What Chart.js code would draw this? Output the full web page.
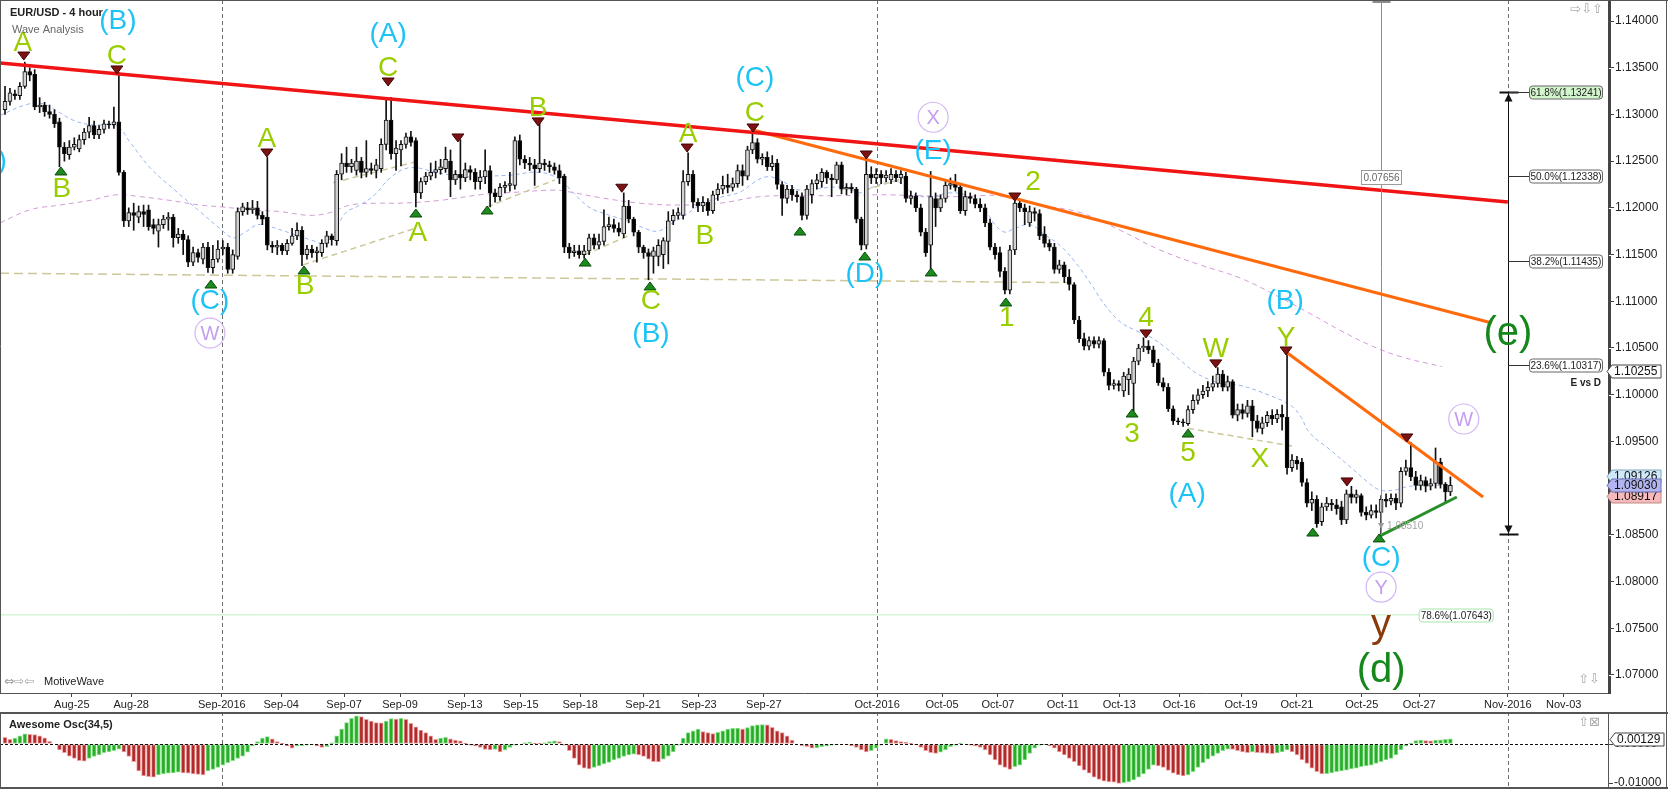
<!DOCTYPE html>
<html><head><meta charset="utf-8">
<script src="https://cdn.jsdelivr.net/npm/chart.js@4.4.1/dist/chart.umd.min.js"></script>
<style>
html,body{margin:0;padding:0;background:#fff;overflow:hidden;}
#wrap{position:relative;width:1668px;height:789px;background:#fff;}
#main{position:absolute;left:0;top:0;}
#osc{position:absolute;left:0;top:712px;}
</style></head><body>
<div id="wrap"><canvas id="main" width="1668" height="712"></canvas><canvas id="osc" width="1668" height="77"></canvas></div>
<script>
// ===== DATA (prices x 10000, one entry per 4-hour bar, Aug-23 .. Oct-28 2016) =====
const opens = [
11305,11314,11322,11320,11330,11346,11343,11308,11310,11303,
11300,11292,11265,11257,11265,11263,11273,11281,11288,11278,
11284,11290,11289,11292,11238,11186,11195,11190,11196,11198,
11182,11175,11182,11188,11190,11168,11172,11166,11142,11152,
11145,11158,11136,11145,11156,11158,11134,11148,11196,11200,
11198,11200,11192,11190,11160,11158,11160,11154,11162,11170,
11176,11150,11156,11152,11152,11162,11170,11165,11236,11248,
11244,11240,11250,11238,11242,11240,11242,11268,11294,11258,
11262,11268,11276,11272,11216,11228,11234,11238,11241,11242,
11250,11230,11236,11232,11241,11238,11228,11233,11240,11216,
11212,11222,11224,11224,11272,11252,11248,11246,11242,11248,
11246,11244,11240,11234,11158,11152,11154,11150,11154,11168,
11160,11164,11180,11182,11178,11172,11202,11188,11174,11158,
11152,11148,11148,11150,11164,11186,11192,11192,11228,11236,
11206,11202,11206,11197,11214,11220,11224,11222,11226,11240,
11234,11262,11270,11252,11254,11244,11248,11225,11210,11220,
11214,11212,11192,11214,11226,11228,11238,11232,11230,11246,
11220,11222,11220,11188,11160,11236,11232,11236,11232,11230,
11236,11232,11234,11210,11213,11200,11174,11160,11210,11200,
11210,11224,11226,11222,11197,11212,11210,11204,11200,11184,
11158,11152,11132,11112,11155,11205,11200,11184,11196,11194,
11172,11162,11158,11134,11139,11126,11118,11080,11060,11052,
11058,11054,11058,11024,11010,11012,11004,11016,11012,11036,
11050,11052,11048,11034,11013,11008,10985,10972,10971,10969,
10984,10994,11000,11004,11008,11012,11022,11008,11014,10978,
10984,10980,10988,10972,10964,10970,10978,10974,10979,10976,
10922,10930,10928,10906,10884,10888,10864,10880,10884,10882,
10880,10866,10894,10890,10892,10874,10871,10876,10874,10888,
10886,10889,10884,10918,10922,10912,10903,10908,10902,10905,
10928,10904,10896];
const highs = [
11330,11328,11326,11334,11356,11350,11348,11318,11313,11310,
11305,11296,11270,11272,11275,11278,11285,11297,11293,11288,
11294,11293,11308,11345,11240,11200,11205,11202,11203,11203,
11188,11188,11192,11195,11193,11178,11176,11170,11158,11156,
11162,11163,11160,11165,11165,11162,11155,11200,11205,11206,
11208,11207,11196,11254,11164,11165,11162,11166,11178,11184,
11180,11160,11160,11158,11166,11175,11172,11240,11258,11265,
11252,11265,11254,11272,11248,11252,11274,11318,11318,11272,
11272,11280,11282,11275,11232,11238,11248,11250,11252,11265,
11262,11240,11273,11248,11245,11242,11240,11262,11245,11220,
11226,11228,11238,11276,11278,11256,11254,11252,11291,11252,
11250,11248,11246,11236,11162,11160,11160,11160,11172,11172,
11172,11198,11190,11188,11184,11216,11208,11190,11176,11160,
11156,11158,11166,11168,11196,11198,11200,11240,11259,11240,
11210,11212,11210,11218,11226,11234,11236,11232,11246,11246,
11266,11281,11274,11258,11260,11256,11252,11228,11224,11224,
11218,11216,11224,11230,11236,11242,11240,11236,11249,11249,
11226,11226,11222,11190,11251,11244,11242,11240,11240,11242,
11240,11240,11238,11218,11216,11204,11178,11239,11216,11214,
11230,11232,11236,11226,11218,11216,11214,11210,11204,11188,
11162,11158,11136,11160,11209,11208,11204,11202,11200,11198,
11180,11166,11162,11144,11142,11134,11120,11084,11066,11062,
11062,11062,11060,11028,11016,11015,11024,11028,11040,11054,
11061,11058,11052,11038,11018,11012,10988,10975,10974,10988,
11000,11006,11010,11014,11020,11029,11026,11020,11016,10990,
10990,10994,10994,10978,10976,10982,10984,10984,10989,11045,
10936,10934,10932,10910,10896,10892,10884,10890,10888,10888,
10886,10898,10902,10898,10894,10880,10882,10882,10892,10894,
10894,10894,10922,10930,10949,10918,10914,10912,10910,10943,
10932,10906,10912];
const lows = [
11300,11310,11316,11316,11328,11336,11305,11302,11298,11296,
11286,11244,11250,11252,11262,11260,11268,11275,11274,11274,
11280,11285,11285,11235,11180,11180,11176,11184,11180,11176,
11172,11158,11178,11176,11158,11162,11150,11137,11138,11142,
11140,11131,11130,11142,11150,11130,11130,11145,11192,11193,
11194,11188,11182,11155,11152,11150,11150,11150,11160,11166,
11138,11145,11147,11142,11148,11158,11160,11160,11230,11238,
11238,11235,11232,11233,11236,11232,11238,11262,11252,11240,
11245,11264,11266,11201,11210,11225,11230,11232,11236,11238,
11212,11225,11220,11228,11230,11220,11220,11226,11201,11206,
11208,11216,11218,11220,11246,11242,11240,11224,11238,11240,
11238,11236,11226,11152,11146,11148,11146,11146,11150,11156,
11156,11160,11176,11174,11170,11168,11184,11170,11152,11146,
11123,11130,11138,11135,11140,11182,11188,11188,11224,11200,
11196,11196,11192,11194,11208,11215,11216,11218,11222,11224,
11230,11258,11248,11246,11240,11240,11220,11192,11205,11208,
11206,11187,11188,11205,11220,11222,11226,11212,11226,11215,
11214,11216,11184,11155,11156,11226,11226,11226,11228,11226,
11228,11226,11206,11204,11196,11170,11148,11130,11180,11196,
11206,11220,11218,11194,11192,11205,11200,11196,11180,11155,
11145,11126,11108,11108,11150,11196,11182,11180,11186,11166,
11158,11154,11130,11130,11120,11112,11076,11056,11048,11048,
11050,11050,11020,11005,11006,11004,10998,11000,10982,11032,
11046,11044,11030,11010,11004,10982,10968,10968,10966,10967,
10980,10990,10996,10998,11004,11008,11004,11004,10975,10972,
10974,10976,10955,10960,10958,10966,10968,10970,10962,10915,
10918,10920,10902,10880,10876,10858,10860,10876,10876,10872,
10861,10862,10884,10884,10870,10866,10868,10868,10851,10880,
10882,10877,10880,10914,10908,10898,10898,10896,10898,10900,
10900,10884,10892];
const closes = [
11314,11323,11320,11330,11346,11342,11308,11310,11303,11300,
11290,11265,11258,11265,11268,11273,11281,11288,11278,11284,
11290,11289,11292,11238,11186,11195,11192,11196,11193,11180,
11178,11182,11188,11190,11168,11172,11166,11142,11152,11147,
11158,11136,11145,11156,11158,11134,11150,11196,11201,11198,
11200,11192,11188,11160,11158,11160,11154,11162,11170,11176,
11150,11156,11152,11154,11162,11170,11166,11236,11248,11244,
11248,11250,11238,11242,11240,11246,11268,11294,11258,11264,
11268,11276,11270,11216,11228,11234,11238,11241,11244,11252,
11230,11236,11232,11241,11238,11228,11233,11240,11216,11212,
11222,11224,11226,11272,11252,11248,11246,11242,11248,11246,
11244,11240,11232,11158,11152,11154,11150,11154,11168,11160,
11164,11180,11182,11178,11174,11202,11188,11174,11158,11152,
11148,11154,11160,11165,11186,11192,11195,11228,11236,11206,
11202,11206,11197,11214,11220,11224,11222,11226,11240,11234,
11262,11270,11252,11254,11244,11248,11225,11210,11220,11214,
11212,11192,11220,11226,11230,11238,11232,11230,11246,11220,
11222,11220,11188,11160,11236,11232,11236,11232,11235,11236,
11232,11236,11210,11213,11200,11174,11152,11212,11200,11210,
11224,11226,11222,11197,11212,11210,11204,11200,11184,11158,
11150,11132,11112,11155,11205,11200,11196,11196,11194,11170,
11162,11158,11134,11139,11126,11118,11080,11060,11052,11058,
11054,11058,11024,11010,11012,11010,11020,11022,11036,11050,
11052,11048,11034,11013,11008,10985,10972,10971,10970,10984,
10994,11000,11004,11008,11012,11022,11008,11014,10978,10984,
10980,10988,10972,10964,10970,10978,10974,10979,10976,10922,
10930,10926,10906,10884,10888,10862,10880,10884,10882,10878,
10866,10894,10890,10893,10874,10871,10876,10874,10888,10886,
10889,10884,10918,10922,10912,10903,10908,10902,10905,10928,
10904,10896,10903];
// Awesome Oscillator (x 10000)
const aoValues = [
17,12,15,21,26,25,24,21,16,7,
0,-15,-22,-31,-37,-43,-44,-37,-32,-28,
-22,-20,-17,-13,-20,-32,-45,-69,-82,-84,
-85,-79,-77,-75,-74,-72,-74,-75,-77,-78,
-79,-69,-65,-60,-54,-48,-43,-37,-31,-21,
-5,6,15,19,13,6,2,-5,-11,-5,
-4,-3,-2,-5,-9,-7,3,21,38,55,
66,72,70,63,59,55,54,59,65,64,
66,63,53,44,36,29,21,12,15,17,
13,10,8,2,-3,-5,-9,-14,-15,-14,
-20,-15,-9,-3,0,3,4,2,1,3,
6,8,6,-3,-17,-37,-54,-62,-64,-60,
-56,-51,-47,-41,-37,-32,-28,-26,-28,-32,
-39,-45,-46,-39,-31,-20,-3,15,29,34,
38,32,29,27,30,34,38,40,41,38,
42,47,49,50,49,43,34,29,21,10,
0,-4,-7,-11,-10,-7,-5,-3,-1,0,
-1,-4,-9,-15,-20,-17,-11,-3,13,12,
9,6,4,2,-1,-9,-17,-22,-24,-21,
-15,-7,-3,2,0,-3,-5,-9,-15,-28,
-41,-54,-60,-65,-58,-54,-41,-24,-11,-3,
-1,-5,-11,-20,-28,-37,-45,-56,-67,-75,
-85,-91,-95,-97,-98,-101,-99,-97,-92,-85,
-77,-65,-54,-56,-60,-68,-75,-79,-82,-79,
-71,-60,-48,-39,-31,-24,-17,-13,-14,-17,
-20,-22,-20,-22,-23,-24,-25,-23,-20,-15,
-20,-28,-41,-50,-62,-71,-77,-76,-74,-71,
-69,-67,-64,-62,-58,-56,-54,-50,-45,-41,
-37,-28,-15,-5,2,9,10,9,8,10,
11,12,13];
// moving averages (bar index, price x 10000)
const blueMaX = [-1,4,7.1,10.1,13.7,17.2,22.6,25.3,29.3,34.3,39.4,43.4,46.1,48.5,51.1,53.5,57.6,61.6,64.6,66.3,68.7,71.7,74.7,77.8,81.8,87.9,93.9,98,102,108.1,112.1,115.2,118.2,122.2,126.3,129.3,131.9,134.3,137.4,140.4,144.4,148.5,151.5,153.5,155.6,158.6,160.6,164.6,169.7,172.7,174.7,178.8,180.8,183.8,186.9,190.9,194,196,198,200,202,204,207.1,210.1,213.1,216.2,219.2,222.2,225.3,228.3,231.3,234.3,237.4,240.4,243.4,246.5,249.5,255.6,259.6,261.6,263.6,267.7,271.7,275.2,277.8,280.8,282.8,285.9,289.9,291.9];
const blueMaY = [11299,11310,11312,11305,11294,11289,11287,11270,11243,11219,11196,11178,11168,11174,11182,11180,11173,11166,11162,11171,11194,11203,11214,11232,11243,11237,11233,11234,11235,11238,11230,11214,11200,11192,11185,11178,11175,11182,11192,11203,11211,11217,11228,11233,11232,11224,11219,11221,11222,11216,11221,11228,11227,11214,11212,11216,11214,11208,11198,11182,11174,11178,11182,11171,11160,11142,11120,11096,11078,11069,11062,11051,11037,11024,11016,11011,11010,10999,10989,10978,10959,10941,10923,10907,10898,10898,10901,10903,10903,10902];
const purpleMaX = [-1,5.1,11.1,17.2,22.6,27.3,33.3,39.4,43.8,49.5,55.6,61.6,65.7,69.7,75.8,79.8,87.9,96,104,111.1,114.1,120.2,128.3,136.4,144.4,152.5,160.6,168.7,176.8,184.8,192.9,201,209.1,217.2,225.3,233.3,241.4,249.5,257.6,263.6,269.7,275.8,281.8,290.3];
const purpleMaY = [11184,11198,11203,11208,11214,11212,11208,11203,11201,11198,11196,11192,11195,11203,11205,11205,11208,11214,11217,11219,11217,11211,11205,11203,11205,11212,11213,11213,11214,11213,11212,11213,11203,11195,11176,11155,11139,11125,11104,11087,11069,11053,11041,11030];
// x axis
const tickPositions = [13.5,25.5,43.8,55.8,68.5,79.8,92.9,104.2,116.2,128.9,140.2,153.3,176.2,189.3,200.6,213.7,225.1,237.2,249.7,261,274.1,285.7,303.6,314.9];
const tickLabels = ['Aug-25','Aug-28','Sep-2016','Sep-04','Sep-07','Sep-09','Sep-13','Sep-15','Sep-18','Sep-21','Sep-23','Sep-27','Oct-2016','Oct-05','Oct-07','Oct-11','Oct-13','Oct-16','Oct-19','Oct-21','Oct-25','Oct-27','Nov-2016','Nov-03'];
const monthBreaks = [43.8,176.2,303.6];
const priceTicks = [1.07,1.075,1.08,1.085,1.09,1.095,1.10,1.105,1.11,1.115,1.12,1.125,1.13,1.135,1.14];
const oscTicks = [-0.01,0];
// trend lines [x1, price1, x2, price2]
const redLine = [-1.01,1.1355,303.6,1.12063];
const orangeLine1 = [151.1,1.12833,300.4,1.10768];
const orangeLine2 = [258.8,1.10457,298.6,1.08905];
const greenLine = [277.8,1.08488,293.3,1.08905];
const oliveLines = [[-1.01,1.1130,215.2,1.1120],[60.2,1.1139,82.8,1.1178],[66.3,1.1227,82.8,1.1249],[97.4,1.1201,111.1,1.1230],[117.2,1.1150,126.3,1.1171],[173.7,1.1219,181.8,1.1232],[239,1.0964,260,1.0945]];
// fibonacci / measurement
const fibBar = 303.6, fibLow = 1.0851;
const fibLevels = [61.8,50.0,38.2,23.6];
const fibPrices = [1.13241,1.12338,1.11435,1.10317];
const fib786 = {level:78.6, price:1.07643, endBar:285.7};
const rulerBar = 278, rulerLow = 1.0850, rulerLabelPrice = 1.1233, rulerText = '0.07656';
const lowMark = {bar:278, price:1.08595, text:'1.08510'};
const priceTags = [[1.10255,'#ffffff','#444'],[1.09126,'#cfe9f8','#7fa8c0'],[1.08917,'#f6baba','#c08a8a'],[1.09030,'#b3b5f0','#6a6cb0']];
const oscTag = 0.00129;
// wave labels [barIndex, price, text, degree]
const waveLabels = [
[3.6,1.13775,'A','minor'],[22.8,1.1401,'(B)','inter'],[22.6,1.13636,'C','minor'],[11.5,1.1221,'B','minor'],
[-3.4,1.1251,'(A)','inter'],[41.4,1.1101,'(C)','inter'],[41.4,1.1066,'W','circ'],[77.4,1.1387,'(A)','inter'],
[77.4,1.1350,'C','minor'],[52.9,1.1275,'A','minor'],[60.6,1.11175,'B','minor'],[83.4,1.1174,'A','minor'],
[107.7,1.1308,'B','minor'],[138,1.1280,'A','minor'],[151.5,1.1340,'(C)','inter'],[151.5,1.13026,'C','minor'],
[141.4,1.1171,'B','minor'],[130.5,1.1101,'C','minor'],[130.5,1.1066,'(B)','inter'],[173.7,1.1130,'(D)','inter'],
[187.5,1.1297,'X','circ'],[187.5,1.1262,'(E)','inter'],[207.7,1.1228,'2','minor'],[202.4,1.1083,'1','minor'],
[230.5,1.1083,'4','minor'],[227.7,1.0959,'3','minor'],[244.6,1.1050,'W','minor'],[239,1.0938,'5','minor'],
[253.5,1.0932,'X','minor'],[258.6,1.1101,'(B)','inter'],[258.8,1.1062,'Y','minor'],[238.8,1.0895,'(A)','inter'],
[294.7,1.0974,'W','circ'],[278,1.0826,'(C)','inter'],[278,1.0794,'Y','circ'],[278,1.0754,'y','brown'],
[278,1.0705,'(d)','prim'],[303.6,1.1066,'(e)','prim']];
const peakMarks = [[3.8,1.13625],[22.6,1.13476],[52.9,1.12587],[77.4,1.13347],[91.5,1.12748],[107.7,1.1292],[124.6,1.1221],[137.8,1.1264],[151.1,1.12855],[174,1.12566],[204,1.12116],[230.5,1.1065],[244.6,1.1033],[258.8,1.10468],[271.1,1.09066],[283.2,1.09537]];
const troughMarks = [[11.3,1.12395],[41.6,1.11185],[60.4,1.11335],[83,1.11945],[97.4,1.11977],[117.2,1.1142],[130.3,1.11164],[160.6,1.11752],[173.7,1.11485],[187.1,1.11314],[202.2,1.10993],[227.7,1.09804],[239,1.0959],[264.2,1.0853],[277.6,1.08467]];

// ===== RENDERING =====
const FONT = '"Liberation Sans", Arial, sans-serif';
const P = v => v / 1e4;
const X_MIN = -5 / 4.95, X_MAX = (1608 - 5) / 4.95;
const Y_MIN = 1.06807, Y_MAX = 1.14225;
const OSC_MIN = -0.011538, OSC_MAX = 0.008205;
Chart.defaults.font.family = FONT;
Chart.defaults.animation = false;

const wickData = highs.map((h, i) => ({x: i, y: [P(lows[i]), P(h)]}));
const bodyData = opens.map((o, i) => ({x: i, y: [P(o), P(closes[i])]}));
const isUp = opens.map((o, i) => closes[i] >= o);
const seg = (s) => [{x: s[0], y: s[1]}, {x: s[2], y: s[3]}];
function lineDs(data, color, width, dash, order, tension) {
  return {type: 'line', data, borderColor: color, borderWidth: width, borderDash: dash || [], pointRadius: 0, pointHoverRadius: 0, fill: false, tension: tension || 0, order};
}
function roundRect(ctx, x, y, w, h, r) {
  ctx.beginPath(); ctx.moveTo(x + r, y); ctx.lineTo(x + w - r, y); ctx.quadraticCurveTo(x + w, y, x + w, y + r);
  ctx.lineTo(x + w, y + h - r); ctx.quadraticCurveTo(x + w, y + h, x + w - r, y + h); ctx.lineTo(x + r, y + h);
  ctx.quadraticCurveTo(x, y + h, x, y + h - r); ctx.lineTo(x, y + r); ctx.quadraticCurveTo(x, y, x + r, y); ctx.closePath();
}
function tag(ctx, xl, yc, text, fill, stroke) {
  const h = 13, w = 54;
  ctx.beginPath(); ctx.moveTo(xl, yc); ctx.lineTo(xl + 5, yc - h / 2); ctx.lineTo(xl + w, yc - h / 2);
  ctx.lineTo(xl + w, yc + h / 2); ctx.lineTo(xl + 5, yc + h / 2); ctx.closePath();
  ctx.fillStyle = fill; ctx.fill(); ctx.strokeStyle = stroke; ctx.lineWidth = 1; ctx.stroke();
  ctx.fillStyle = '#111'; ctx.font = `12px ${FONT}`; ctx.textAlign = 'left'; ctx.textBaseline = 'middle';
  ctx.fillText(text, xl + 7, yc + 0.5);
}
const labelStyle = {
  minor: {color: '#9acd00', size: 28}, inter: {color: '#1ec3f5', size: 28},
  circ: {color: '#c49ef0', size: 20}, prim: {color: '#15871b', size: 40}, brown: {color: '#8b3a0c', size: 40}
};

const mainDecor = {
  id: 'mainDecor',
  beforeDatasetsDraw(chart) {
    const {ctx, chartArea: a, scales: {x}} = chart;
    ctx.save(); ctx.strokeStyle = '#6f6f6f'; ctx.lineWidth = 1; ctx.setLineDash([4, 3]);
    monthBreaks.forEach(m => { const px = Math.round(x.getPixelForValue(m)) + 0.5; ctx.beginPath(); ctx.moveTo(px, a.top); ctx.lineTo(px, a.bottom); ctx.stroke(); });
    ctx.restore();
  },
  afterDatasetsDraw(chart) {
    const {ctx, chartArea: a, scales: {x, y}} = chart;
    const X = v => x.getPixelForValue(v), Y = v => y.getPixelForValue(v);
    ctx.save(); ctx.setLineDash([]);
    // ruler
    const gx = Math.round(X(rulerBar)) + 0.5;
    ctx.strokeStyle = '#8c8c8c'; ctx.lineWidth = 1;
    ctx.beginPath(); ctx.moveTo(gx, a.top); ctx.lineTo(gx, Y(rulerLow)); ctx.stroke();
    ctx.lineWidth = 3; ctx.beginPath(); ctx.moveTo(gx - 9, a.top + 1.5); ctx.lineTo(gx + 9, a.top + 1.5); ctx.stroke();
    const ry = Math.round(Y(rulerLabelPrice)) + 0.5;
    ctx.lineWidth = 1; ctx.fillStyle = '#fff'; ctx.strokeStyle = '#9a9a9a';
    ctx.fillRect(gx - 20, ry - 7, 40, 14); ctx.strokeRect(gx - 20, ry - 7, 40, 14);
    ctx.font = `10px ${FONT}`; ctx.textAlign = 'center'; ctx.textBaseline = 'middle'; ctx.fillStyle = '#666';
    ctx.fillText(rulerText, gx, ry + 0.5);
    // low mark
    const lx = X(lowMark.bar), ly = Y(lowMark.price);
    ctx.fillStyle = '#9a9a9a'; ctx.beginPath(); ctx.moveTo(lx - 3, ly - 3); ctx.lineTo(lx + 3, ly - 3); ctx.lineTo(lx, ly + 3); ctx.closePath(); ctx.fill();
    ctx.textAlign = 'left'; ctx.fillStyle = '#a5a5a5'; ctx.fillText(lowMark.text, lx + 6, ly + 0.5);
    // 78.6 label
    const bx = X(fib786.endBar), by = Math.round(Y(fib786.price)) + 0.5;
    roundRect(ctx, bx, by - 6.5, 74, 13, 3); ctx.fillStyle = '#fff'; ctx.fill(); ctx.strokeStyle = '#a8e6a8'; ctx.stroke();
    ctx.fillStyle = '#222'; ctx.textAlign = 'center'; ctx.fillText(`${fib786.level.toFixed(1)}%(${fib786.price.toFixed(5)})`, bx + 37, by + 0.5);
    // fib measure
    const fx = Math.round(X(fibBar)) + 0.5, fTop = Math.round(Y(fibPrices[0])) + 0.5, fBot = Math.round(Y(fibLow)) + 0.5;
    ctx.strokeStyle = '#111'; ctx.lineWidth = 1;
    ctx.beginPath(); ctx.moveTo(fx, fTop); ctx.lineTo(fx, fBot); ctx.stroke();
    ctx.lineWidth = 2; ctx.beginPath(); ctx.moveTo(fx - 9, fTop); ctx.lineTo(fx + 10, fTop); ctx.moveTo(fx - 9, fBot); ctx.lineTo(fx + 10, fBot); ctx.stroke();
    ctx.fillStyle = '#111';
    ctx.beginPath(); ctx.moveTo(fx, fTop + 1); ctx.lineTo(fx - 4, fTop + 9); ctx.lineTo(fx + 4, fTop + 9); ctx.closePath(); ctx.fill();
    ctx.beginPath(); ctx.moveTo(fx, fBot - 1); ctx.lineTo(fx - 4, fBot - 9); ctx.lineTo(fx + 4, fBot - 9); ctx.closePath(); ctx.fill();
    ctx.lineWidth = 1; ctx.font = `10px ${FONT}`;
    fibLevels.forEach((lv, k) => {
      const yy = Math.round(Y(fibPrices[k])) + 0.5;
      ctx.strokeStyle = '#333'; ctx.beginPath(); ctx.moveTo(fx, yy); ctx.lineTo(fx + 21, yy); ctx.stroke();
      roundRect(ctx, fx + 21, yy - 6.5, 73, 13, 3);
      ctx.fillStyle = k === 0 ? '#d3f5cc' : '#fff'; ctx.fill(); ctx.strokeStyle = '#666'; ctx.stroke();
      ctx.fillStyle = '#222'; ctx.textAlign = 'center'; ctx.fillText(`${lv.toFixed(1)}%(${fibPrices[k].toFixed(5)})`, fx + 57.5, yy + 0.5);
    });
    // pivot triangles
    ctx.lineWidth = 1;
    peakMarks.forEach(([b, p]) => { const cx = X(b), cy = Y(p); ctx.beginPath(); ctx.moveTo(cx - 6, cy - 4); ctx.lineTo(cx + 6, cy - 4); ctx.lineTo(cx, cy + 4); ctx.closePath(); ctx.fillStyle = '#7e1212'; ctx.fill(); ctx.strokeStyle = '#3d0505'; ctx.stroke(); });
    troughMarks.forEach(([b, p]) => { const cx = X(b), cy = Y(p); ctx.beginPath(); ctx.moveTo(cx - 6, cy + 4); ctx.lineTo(cx + 6, cy + 4); ctx.lineTo(cx, cy - 4); ctx.closePath(); ctx.fillStyle = '#1d8a1d'; ctx.fill(); ctx.strokeStyle = '#0a4a0a'; ctx.stroke(); });
    // wave labels
    waveLabels.forEach(([b, p, t, kind]) => {
      const st = labelStyle[kind], cx = X(b), cy = Y(p);
      if (kind === 'circ') { ctx.strokeStyle = '#d3b6f4'; ctx.lineWidth = 1.2; ctx.beginPath(); ctx.arc(cx, cy, 15, 0, Math.PI * 2); ctx.stroke(); }
      ctx.font = `${st.size}px ${FONT}`; ctx.fillStyle = st.color; ctx.textAlign = 'center'; ctx.textBaseline = 'middle';
      ctx.fillText(t, cx, cy + 1);
    });
    ctx.restore();
  },
  afterDraw(chart) {
    const {ctx, chartArea: a, scales: {y}} = chart;
    ctx.save();
    // minor price ticks
    ctx.strokeStyle = '#444'; ctx.lineWidth = 1;
    for (let k = 10681; k <= 11422; k++) { if (k % 50 === 0) continue; const yy = Math.round(y.getPixelForValue(k / 1e4)) + 0.5; ctx.beginPath(); ctx.moveTo(a.right, yy); ctx.lineTo(a.right + 3, yy); ctx.stroke(); }
    // price tags
    priceTags.forEach(([p, fill, stroke]) => tag(ctx, a.right - 1, Math.round(y.getPixelForValue(p)) + 0.5, p.toFixed(5), fill, stroke));
    // texts
    ctx.textBaseline = 'middle'; ctx.textAlign = 'left';
    ctx.font = `bold 11px ${FONT}`; ctx.fillStyle = '#222'; ctx.fillText('EUR/USD - 4 hour', a.left + 10, 13);
    ctx.font = `11px ${FONT}`; ctx.fillStyle = '#666'; ctx.fillText('Wave Analysis', a.left + 12, 30);
    ctx.font = `bold 10px ${FONT}`; ctx.fillStyle = '#222'; ctx.textAlign = 'right'; ctx.fillText('E vs D', a.right - 7, y.getPixelForValue(1.10125));
    ctx.textAlign = 'left'; ctx.font = `12px "DejaVu Sans", sans-serif`; ctx.fillStyle = '#9a9a9a';
    ctx.fillText('\u21D4\u21E8\u21E6', a.left + 4, a.bottom - 11);
    ctx.font = `11px ${FONT}`; ctx.fillStyle = '#222'; ctx.fillText('MotiveWave', a.left + 44, a.bottom - 11);
    ctx.font = `13px "DejaVu Sans", sans-serif`; ctx.fillStyle = '#aaa'; ctx.textAlign = 'right';
    ctx.fillText('\u21E8\u21E9\u21E7', a.right - 5, 10);
    ctx.fillText('\u21E7\u21E9', a.right - 8, a.bottom - 13);
    // frame
    ctx.strokeStyle = '#555'; ctx.lineWidth = 1;
    ctx.beginPath(); ctx.moveTo(0.5, 0); ctx.lineTo(0.5, a.bottom); ctx.moveTo(0, 0.5); ctx.lineTo(1668, 0.5); ctx.moveTo(1666.5, 0); ctx.lineTo(1666.5, 712); ctx.stroke();
    ctx.restore();
  }
};

const mainDatasets = [
  lineDs(purpleMaX.map((v, i) => ({x: v, y: P(purpleMaY[i])})), '#d49ad8', 1, [5, 4], 12, 0.4),
  lineDs(blueMaX.map((v, i) => ({x: v, y: P(blueMaY[i])})), '#9ab6f2', 1, [4, 3], 11, 0.4),
  ...oliveLines.map((s, k) => lineDs(seg(s), '#cdc79a', 1.5, k === 0 ? [9, 5] : [6, 4], 10)),
  lineDs(seg([-1.01, fib786.price, fib786.endBar, fib786.price]), '#bff0bf', 1, [], 10),
  {type: 'bar', data: wickData, backgroundColor: '#111', borderWidth: 0, barThickness: 1, grouped: false, order: 6},
  {type: 'bar', data: bodyData, backgroundColor: c => isUp[c.dataIndex] ? '#d2d2d2' : '#000', borderColor: '#111', borderWidth: 1, borderSkipped: false, barThickness: 4, minBarLength: 1, grouped: false, order: 5},
  lineDs(seg(redLine), '#f01414', 3.5, [], 2),
  lineDs(seg(orangeLine1), '#ff6a0d', 3, [], 2),
  lineDs(seg(orangeLine2), '#ff6a0d', 3, [], 2),
  lineDs(seg(greenLine), '#2a8f2a', 3, [], 1)
];

new Chart(document.getElementById('main'), {
  type: 'bar',
  data: {datasets: mainDatasets},
  options: {
    responsive: false, animation: false, devicePixelRatio: 1, events: [],
    layout: {padding: 0},
    plugins: {legend: {display: false}, tooltip: {enabled: false}},
    scales: {
      x: {
        type: 'linear', min: X_MIN, max: X_MAX, offset: false,
        grid: {offset: false, drawOnChartArea: false, drawTicks: true, tickLength: 4, color: '#444'},
        border: {display: true, color: '#555'},
        ticks: {autoSkip: false, maxRotation: 0, padding: 1, color: '#222', font: {size: 11}, callback: (v, i) => tickLabels[i]},
        afterBuildTicks: s => { s.ticks = tickPositions.map(v => ({value: v})); },
        afterFit: s => { s.height = 19; s.paddingLeft = 0; s.paddingRight = 0; }
      },
      y: {
        type: 'linear', position: 'right', min: Y_MIN, max: Y_MAX,
        grid: {drawOnChartArea: false, drawTicks: true, tickLength: 6, color: '#444'},
        border: {display: true, color: '#555'},
        ticks: {autoSkip: false, padding: 1, color: '#222', font: {size: 12}, callback: v => Number(v).toFixed(5)},
        afterBuildTicks: s => { s.ticks = priceTicks.map(v => ({value: v})); },
        afterFit: s => { s.width = 60; s.paddingTop = 0; s.paddingBottom = 0; }
      }
    }
  },
  plugins: [mainDecor]
});

// ===== OSCILLATOR =====
const aoUp = aoValues.map((v, i) => i > 0 && v > aoValues[i - 1]);
const oscDecor = {
  id: 'oscDecor',
  beforeDatasetsDraw(chart) {
    const {ctx, chartArea: a, scales: {x}} = chart;
    ctx.save(); ctx.strokeStyle = '#6f6f6f'; ctx.lineWidth = 1; ctx.setLineDash([4, 3]);
    monthBreaks.forEach(m => { const px = Math.round(x.getPixelForValue(m)) + 0.5; ctx.beginPath(); ctx.moveTo(px, a.top); ctx.lineTo(px, a.bottom); ctx.stroke(); });
    ctx.restore();
  },
  afterDatasetsDraw(chart) {
    const {ctx, chartArea: a, scales: {y}} = chart;
    ctx.save(); ctx.strokeStyle = '#111'; ctx.lineWidth = 1; ctx.setLineDash([3, 2]);
    const zy = Math.round(y.getPixelForValue(0)) + 0.5;
    ctx.beginPath(); ctx.moveTo(a.left, zy); ctx.lineTo(a.right, zy); ctx.stroke();
    ctx.restore();
  },
  afterDraw(chart) {
    const {ctx, chartArea: a, scales: {y}} = chart;
    ctx.save();
    ctx.font = `bold 11px ${FONT}`; ctx.fillStyle = '#222'; ctx.textAlign = 'left'; ctx.textBaseline = 'middle';
    ctx.fillText('Awesome Osc(34,5)', a.left + 9, 13);
    tag(ctx, a.right + 2, Math.round(y.getPixelForValue(oscTag)) + 0.5, oscTag.toFixed(5), '#fff', '#444');
    ctx.font = `13px "DejaVu Sans", sans-serif`; ctx.fillStyle = '#aaa'; ctx.textAlign = 'right';
    ctx.fillText('\u21E7\u22A0', a.right - 8, 11);
    ctx.strokeStyle = '#555'; ctx.lineWidth = 2;
    ctx.beginPath(); ctx.moveTo(0, 1); ctx.lineTo(1668, 1); ctx.moveTo(0, 76); ctx.lineTo(1668, 76); ctx.stroke();
    ctx.lineWidth = 1; ctx.beginPath(); ctx.moveTo(0.5, 0); ctx.lineTo(0.5, 77); ctx.moveTo(1666.5, 0); ctx.lineTo(1666.5, 77); ctx.stroke();
    ctx.restore();
  }
};

new Chart(document.getElementById('osc'), {
  type: 'bar',
  data: {datasets: [{
    data: aoValues.map((v, i) => ({x: i, y: P(v)})),
    backgroundColor: c => aoUp[c.dataIndex] ? '#27ad27' : '#b02b2b',
    borderColor: c => aoUp[c.dataIndex] ? '#8fe08f' : '#eea5a5',
    borderWidth: 1, borderSkipped: false, barThickness: 4, grouped: false
  }]},
  options: {
    responsive: false, animation: false, devicePixelRatio: 1, events: [],
    layout: {padding: 0},
    plugins: {legend: {display: false}, tooltip: {enabled: false}},
    scales: {
      x: {type: 'linear', min: X_MIN, max: X_MAX, offset: false, display: false, grid: {offset: false}},
      y: {
        type: 'linear', position: 'right', min: OSC_MIN, max: OSC_MAX,
        grid: {drawOnChartArea: false, drawTicks: true, tickLength: 5, color: '#444'},
        border: {display: true, color: '#555'},
        ticks: {autoSkip: false, padding: 1, color: '#222', font: {size: 12}, callback: v => Number(v).toFixed(5)},
        afterBuildTicks: s => { s.ticks = oscTicks.map(v => ({value: v})); },
        afterFit: s => { s.width = 60; s.paddingTop = 0; s.paddingBottom = 0; }
      }
    }
  },
  plugins: [oscDecor]
});
</script></body></html>
